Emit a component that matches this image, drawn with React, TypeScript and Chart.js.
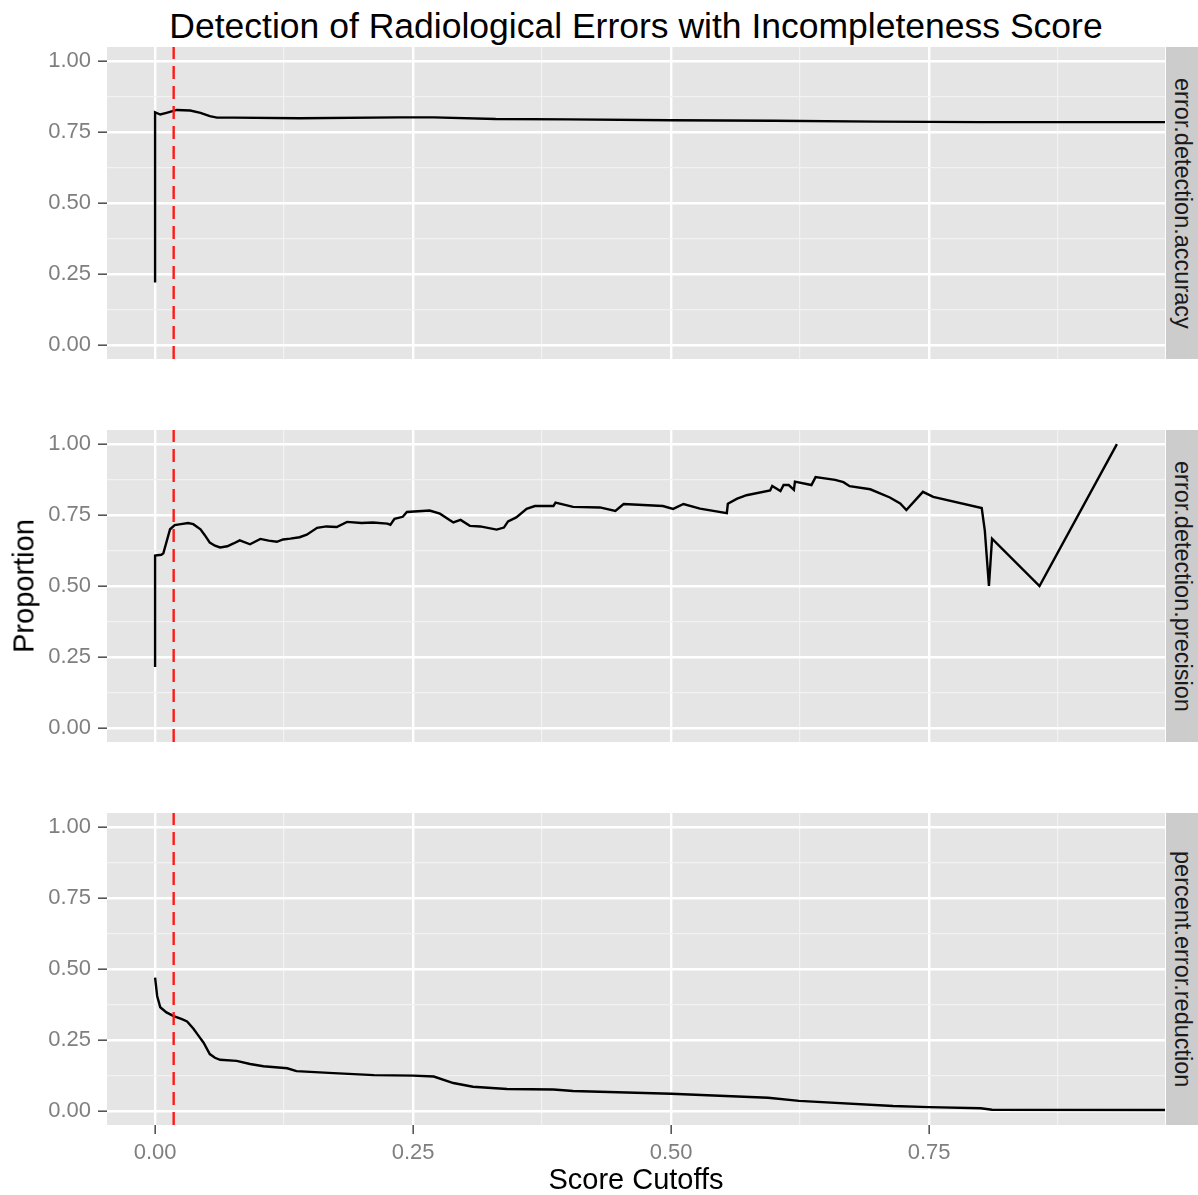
import React, { useEffect, useRef } from "react";
import { Chart, registerables } from "chart.js";

Chart.register(...registerables);

// ---------- data ----------
const chartTitle = "Detection of Radiological Errors with Incompleteness Score";
const xTitle = "Score Cutoffs";
const yTitle = "Proportion";
const facetLabels = [
  "error.detection.accuracy",
  "error.detection.precision",
  "percent.error.reduction",
];

const cutoff = 0.018;

const accuracyX = [0, 0, 0.005, 0.011, 0.021, 0.034, 0.044, 0.053, 0.06, 0.076, 0.14, 0.237, 0.27, 0.33, 0.4, 0.5, 0.6, 0.7, 0.8, 0.979];
const accuracyY = [0.22, 0.82, 0.812, 0.818, 0.828, 0.826, 0.818, 0.806, 0.801, 0.801, 0.799, 0.802, 0.802, 0.796, 0.795, 0.792, 0.79, 0.787, 0.785, 0.785];

const precisionX = [
  0, 0, 0.006, 0.008, 0.0145, 0.019, 0.025, 0.032, 0.037, 0.044, 0.048, 0.053, 0.058, 0.063, 0.07, 0.076,
  0.082, 0.092, 0.102, 0.11, 0.118, 0.124, 0.131, 0.14, 0.147, 0.157, 0.166, 0.176, 0.186, 0.2, 0.211,
  0.225, 0.228, 0.232, 0.24, 0.244, 0.266, 0.276, 0.289, 0.296, 0.305, 0.315, 0.331, 0.338, 0.342, 0.35,
  0.36, 0.368, 0.386, 0.388, 0.405, 0.431, 0.446, 0.454, 0.492, 0.502, 0.512, 0.528, 0.554, 0.555, 0.564,
  0.57, 0.573, 0.596, 0.598, 0.606, 0.609, 0.614, 0.619, 0.62, 0.636, 0.64, 0.659, 0.667, 0.673, 0.693,
  0.712, 0.722, 0.728, 0.744, 0.754, 0.801, 0.804, 0.808, 0.811, 0.857, 0.932,
];
const precisionY = [
  0.214, 0.607, 0.61, 0.615, 0.7, 0.715, 0.718, 0.722, 0.718, 0.7, 0.68, 0.653, 0.642, 0.636, 0.64, 0.65,
  0.661, 0.647, 0.666, 0.66, 0.656, 0.664, 0.667, 0.672, 0.681, 0.705, 0.71, 0.708, 0.726, 0.722, 0.724,
  0.72, 0.716, 0.737, 0.744, 0.761, 0.766, 0.755, 0.724, 0.733, 0.712, 0.71, 0.699, 0.706, 0.728, 0.742,
  0.772, 0.782, 0.782, 0.794, 0.779, 0.777, 0.765, 0.789, 0.782, 0.772, 0.789, 0.773, 0.757, 0.79, 0.808,
  0.816, 0.82, 0.837, 0.853, 0.835, 0.856, 0.856, 0.839, 0.868, 0.856, 0.884, 0.874, 0.866, 0.852, 0.841,
  0.812, 0.791, 0.768, 0.832, 0.814, 0.775, 0.695, 0.5, 0.667, 0.5, 1.0,
];

const reductionX = [
  0, 0.002, 0.005, 0.011, 0.018, 0.026, 0.031, 0.037, 0.042, 0.047, 0.053, 0.058, 0.063, 0.079, 0.092,
  0.105, 0.128, 0.137, 0.173, 0.212, 0.25, 0.27, 0.289, 0.308, 0.341, 0.386, 0.405, 0.5, 0.594, 0.624,
  0.715, 0.75, 0.8, 0.811, 0.979,
];
const reductionY = [
  0.47, 0.405, 0.365, 0.347, 0.334, 0.323, 0.315, 0.29, 0.265, 0.24, 0.2, 0.187, 0.18, 0.176, 0.165,
  0.157, 0.15, 0.14, 0.133, 0.126, 0.124, 0.121, 0.098, 0.085, 0.077, 0.075, 0.07, 0.06, 0.046, 0.035,
  0.017, 0.013, 0.009, 0.004, 0.003,
];

const xMajorTicks = [0, 0.25, 0.5, 0.75];
const xMinorTicks = [0.125, 0.375, 0.625, 0.875];
const yMajorTicks = [0, 0.25, 0.5, 0.75, 1];
const yMinorTicks = [0.125, 0.375, 0.625, 0.875];
const xLimits = [-0.0466, 0.9786];
const yLimits = [-0.05, 1.05];

// ---------- layout / style ----------
const FONT = '"Liberation Sans", Arial, Helvetica, sans-serif';
const PANEL_LEFT = 107;
const PANEL_RIGHT = 1165;
const PANEL_TOPS = [47, 430, 813];
const PANEL_H = 312;
const X_AXIS_H = 48;

const isIn = (v: number, arr: number[]) => arr.some((m) => Math.abs(m - v) < 1e-9);

const bgPlugin = {
  id: "panelBg",
  beforeDraw(chart: any) {
    const { ctx, chartArea: a } = chart;
    ctx.save();
    ctx.fillStyle = "#E5E5E5";
    ctx.fillRect(a.left, a.top, a.right - a.left, a.bottom - a.top);
    ctx.restore();
  },
};

function Panel({ xs, ys, top, showX }: { xs: number[]; ys: number[]; top: number; showX: boolean }) {
  const ref = useRef<HTMLCanvasElement>(null);
  const h = PANEL_H + (showX ? X_AXIS_H : 0);
  useEffect(() => {
    const chart = new Chart(ref.current as HTMLCanvasElement, {
      type: "line",
      data: {
        datasets: [
          {
            data: [
              { x: cutoff, y: yLimits[0] },
              { x: cutoff, y: yLimits[1] },
            ],
            borderColor: "#FF1A1A",
            borderWidth: 2.4,
            borderDash: [13, 7],
            pointRadius: 0,
            order: 0,
          },
          {
            data: xs.map((x, i) => ({ x, y: ys[i] })),
            borderColor: "#000000",
            borderWidth: 2.4,
            pointRadius: 0,
            tension: 0,
            order: 1,
          },
        ],
      },
      options: {
        animation: false,
        responsive: false,
        events: [],
        layout: { padding: 0 },
        plugins: { legend: { display: false }, tooltip: { enabled: false } },
        scales: {
          x: {
            type: "linear",
            min: xLimits[0],
            max: xLimits[1],
            afterBuildTicks: (s: any) => {
              s.ticks = [...xMajorTicks, ...xMinorTicks].sort((a, b) => a - b).map((v) => ({ value: v }));
            },
            afterFit: (s: any) => {
              s.height = showX ? X_AXIS_H : 0;
              s.paddingLeft = 0;
              s.paddingRight = 0;
            },
            border: { display: false },
            grid: {
              color: (c: any) => (c.tick && isIn(c.tick.value, xMajorTicks) ? "#FFFFFF" : "#F2F2F2"),
              lineWidth: (c: any) => (c.tick && isIn(c.tick.value, xMajorTicks) ? 2.4 : 1.2),
              drawTicks: showX,
              tickLength: 9,
              tickWidth: 1.6,
              tickColor: (c: any) => (c.tick && isIn(c.tick.value, xMajorTicks) ? "#555555" : "rgba(0,0,0,0)"),
            },
            ticks: {
              display: showX,
              autoSkip: false,
              maxRotation: 0,
              padding: 6,
              color: "#7F7F7F",
              font: { family: FONT, size: 22 },
              callback: (v: any) => (isIn(Number(v), xMajorTicks) ? Number(v).toFixed(2) : ""),
            },
          },
          y: {
            type: "linear",
            min: yLimits[0],
            max: yLimits[1],
            afterBuildTicks: (s: any) => {
              s.ticks = [...yMajorTicks, ...yMinorTicks].sort((a, b) => a - b).map((v) => ({ value: v }));
            },
            afterFit: (s: any) => {
              s.width = PANEL_LEFT;
              s.paddingTop = 0;
              s.paddingBottom = 0;
            },
            border: { display: false },
            grid: {
              color: (c: any) => (c.tick && isIn(c.tick.value, yMajorTicks) ? "#FFFFFF" : "#F2F2F2"),
              lineWidth: (c: any) => (c.tick && isIn(c.tick.value, yMajorTicks) ? 2.4 : 1.2),
              tickLength: 9,
              tickWidth: 1.6,
              tickColor: (c: any) => (c.tick && isIn(c.tick.value, yMajorTicks) ? "#555555" : "rgba(0,0,0,0)"),
            },
            ticks: {
              autoSkip: false,
              padding: 7,
              color: "#7F7F7F",
              font: { family: FONT, size: 22 },
              callback: (v: any) => (isIn(Number(v), yMajorTicks) ? Number(v).toFixed(2) : ""),
            },
          },
        },
      },
      plugins: [bgPlugin],
    } as any);
    return () => chart.destroy();
  }, []);
  return (
    <canvas
      ref={ref}
      width={PANEL_RIGHT}
      height={h}
      style={{ position: "absolute", left: 0, top, width: PANEL_RIGHT, height: h }}
    />
  );
}

export default function App() {
  const series = [
    [accuracyX, accuracyY],
    [precisionX, precisionY],
    [reductionX, reductionY],
  ];
  return (
    <div
      style={{
        position: "absolute",
        left: 0,
        top: 0,
        width: 1198,
        height: 1195,
        background: "#FFFFFF",
        fontFamily: FONT,
        overflow: "hidden",
      }}
    >
      <div
        style={{
          position: "absolute",
          left: PANEL_LEFT,
          width: PANEL_RIGHT - PANEL_LEFT,
          top: 9,
          textAlign: "center",
          fontSize: 35.5,
          lineHeight: "35px",
          color: "#000",
          whiteSpace: "nowrap",
        }}
      >
        {chartTitle}
      </div>
      {series.map(([xs, ys], i) => (
        <Panel key={i} xs={xs} ys={ys} top={PANEL_TOPS[i]} showX={i === 2} />
      ))}
      {facetLabels.map((lab, i) => (
        <div
          key={lab}
          style={{
            position: "absolute",
            left: PANEL_RIGHT + 1,
            top: PANEL_TOPS[i],
            width: 1198 - PANEL_RIGHT - 1,
            height: PANEL_H,
            background: "#CCCCCC",
            display: "flex",
            alignItems: "center",
            justifyContent: "center",
          }}
        >
          <span
            style={{
              writingMode: "vertical-rl",
              fontSize: 23.5,
              lineHeight: "23px",
              color: "#1A1A1A",
              whiteSpace: "nowrap",
            }}
          >
            {lab}
          </span>
        </div>
      ))}
      <div
        style={{
          position: "absolute",
          left: 24,
          top: (PANEL_TOPS[0] + PANEL_TOPS[2] + PANEL_H) / 2,
          transform: "translate(-50%, -50%) rotate(-90deg)",
          fontSize: 29,
          lineHeight: "29px",
          color: "#000",
          whiteSpace: "nowrap",
        }}
      >
        {yTitle}
      </div>
      <div
        style={{
          position: "absolute",
          left: PANEL_LEFT,
          width: PANEL_RIGHT - PANEL_LEFT,
          top: 1165,
          textAlign: "center",
          fontSize: 29,
          lineHeight: "29px",
          color: "#000",
          whiteSpace: "nowrap",
        }}
      >
        {xTitle}
      </div>
    </div>
  );
}
